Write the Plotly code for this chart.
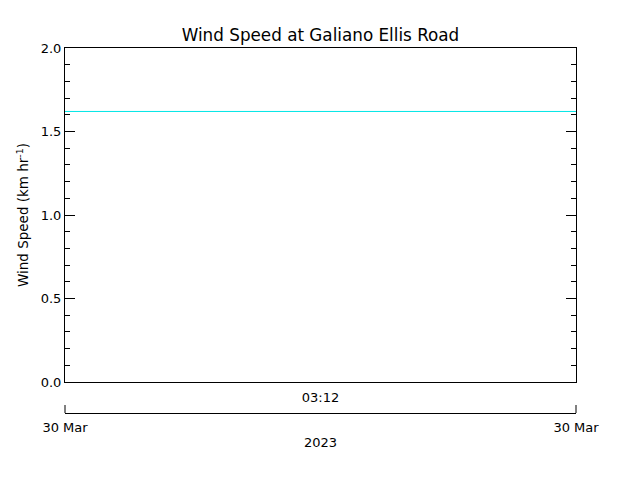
import plotly.graph_objects as go

# Data
times = ["2023-03-30 02:42", "2023-03-30 03:42"]
speeds = [1.62, 1.62]
x_range = ["2023-03-30 02:42", "2023-03-30 03:42"]
center_tick = ["2023-03-30 03:12"]
center_label = ["03:12"]
date_ticks = ["2023-03-30 02:42", "2023-03-30 03:42"]
date_labels = ["30 Mar", "30 Mar"]
year_label = "2023"
title = "Wind Speed at Galiano Ellis Road"
ytitle = "Wind Speed (km hr<sup>-1</sup>)"

FONT = "DejaVu Sans"
OFF = 8  # page body margin in the browser
W, H = 640 - OFF, 480 - OFF

fig = go.Figure()
fig.add_trace(go.Scatter(x=times, y=speeds, mode="lines",
                         line=dict(color="#00e5e5", width=1),
                         showlegend=False, hoverinfo="skip"))
# invisible trace to activate xaxis2
fig.add_trace(go.Scatter(x=times, y=speeds, xaxis="x2", mode="lines",
                         line=dict(width=0), opacity=0, showlegend=False,
                         hoverinfo="skip"))

H_PLOT = 413 - 48
ybot = (413 - 382) / H_PLOT
tick_h = 8 / H_PLOT

fig.update_layout(
    width=W, height=H,
    margin=dict(l=65 - OFF, r=640 - 576, t=48 - OFF, b=480 - 413,
                autoexpand=False),
    paper_bgcolor="white", plot_bgcolor="white",
    font=dict(family=FONT, size=13, color="black"),
    title=dict(text=title, x=(320.5 - OFF) / W, xanchor="center",
               y=1 - (35 - OFF) / H, yanchor="middle",
               font=dict(family=FONT, size=16.8)),
    xaxis=dict(type="date", range=x_range, showgrid=False, zeroline=False,
               showline=True, linecolor="black", linewidth=1, mirror=True,
               ticks="", tickvals=center_tick, ticktext=center_label,
               ticklabelstandoff=3,
               tickfont=dict(size=13), anchor="y", automargin=False),
    xaxis2=dict(type="date", range=x_range, overlaying="x", anchor="free",
                position=0, side="bottom", showgrid=False, zeroline=False,
                showline=True, linecolor="black", linewidth=1,
                ticks="", tickvals=date_ticks, ticktext=date_labels,
                ticklabelstandoff=2,
                tickfont=dict(size=13), automargin=False,
                title=dict(text=year_label, font=dict(size=13), standoff=4)),
    yaxis=dict(domain=[ybot, 1], range=[0, 2], dtick=0.5, tick0=0,
               tickformat=".1f", showgrid=False, zeroline=False,
               showline=True, linecolor="black", linewidth=1, mirror="ticks",
               ticks="inside", ticklen=10, tickcolor="black", tickwidth=1,
               minor=dict(dtick=0.1, ticks="inside", ticklen=5,
                          tickcolor="black", showgrid=False),
               tickfont=dict(size=13), automargin=False,
               title=dict(text=ytitle, font=dict(size=13.5), standoff=8)),
    shapes=[
        dict(type="line", xref="paper", yref="paper", x0=0, x1=0,
             y0=0, y1=tick_h, line=dict(color="black", width=1)),
        dict(type="line", xref="paper", yref="paper", x0=1, x1=1,
             y0=0, y1=tick_h, line=dict(color="black", width=1)),
    ],
)

fig.write_html("out.html")
